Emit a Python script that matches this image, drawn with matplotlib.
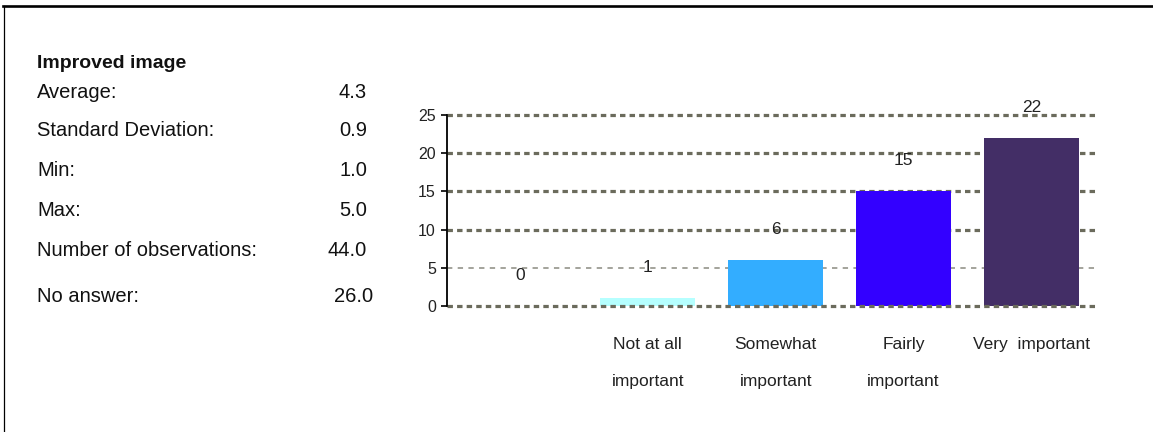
import matplotlib
matplotlib.use("Agg")
import matplotlib.pyplot as plt
from matplotlib.lines import Line2D

plt.rcParams["font.family"] = ["Liberation Sans", "DejaVu Sans"]

# Survey item: importance of an improved image
TITLE = "Improved image"
STAT_NAMES = ["Average:", "Standard Deviation:", "Min:", "Max:",
              "Number of observations:", "No answer:"]
STAT_VALUES = [4.3, 0.9, 1.0, 5.0, 44.0, 26.0]

CATEGORIES = ["", "Not at all\nimportant", "Somewhat\nimportant",
              "Fairly\nimportant", "Very  important"]
COUNTS = [0, 1, 6, 15, 22]
BAR_COLORS = ["#ffffff", "#b5ffff", "#33adff", "#3300ff", "#432e66"]
Y_TICKS = [0, 5, 10, 15, 20, 25]

W, H = 1153, 432
fig = plt.figure(figsize=(W / 100, H / 100), dpi=100)


def fx(px):
    return px / W


def fy(py):
    return 1 - py / H


# outer frame: top and left edges only
fig.add_artist(Line2D([fx(3), 1.0], [fy(6), fy(6)], color="black", lw=1.9,
                      transform=fig.transFigure))
fig.add_artist(Line2D([fx(3.5), fx(3.5)], [0, fy(6)], color="black", lw=0.9,
                      transform=fig.transFigure))

# statistics panel on the left
fig.text(fx(37), fy(63), TITLE, fontsize=14, fontweight="bold",
         va="center", ha="left", color="#111111")
stat_rows = [93, 131, 170, 211, 250, 297]
value_right = [367, 367, 367, 367, 367, 373]
for name, val, ry, vx in zip(STAT_NAMES, STAT_VALUES, stat_rows, value_right):
    fig.text(fx(37), fy(ry), name, fontsize=14.5, va="center", ha="left",
             color="#111111")
    fig.text(fx(vx), fy(ry), f"{val:.1f}", fontsize=14.5, va="center",
             ha="right", color="#111111")

# bar chart on the right
ax = fig.add_axes([fx(447), fy(306), fx(1098) - fx(447), fy(115) - fy(306)])
x = range(len(CATEGORIES))
ax.set_xlim(-0.57, 4.52)
ax.set_ylim(0, 25)

for t in Y_TICKS:
    if t == 5:
        ax.axhline(t, color="#8a8a80", lw=1.1, linestyle=(0, (3.5, 3.5)),
                   zorder=1, clip_on=False)
    else:
        ax.axhline(t, color="#6b6b5c", lw=2.3, linestyle=(0, (1.7, 1.3)),
                   dash_capstyle="butt", zorder=1 if t else 3, clip_on=False)

ax.bar(x, COUNTS, width=0.74, color=BAR_COLORS, zorder=2)

for xi, c in zip(x, COUNTS):
    ax.annotate(str(c), (xi, c), xytext=(0, 22), textcoords="offset points",
                ha="center", va="center", fontsize=12.5, color="#222222",
                zorder=4)

for side in ("top", "right", "bottom"):
    ax.spines[side].set_visible(False)
ax.spines["left"].set_linewidth(1.3)
ax.spines["left"].set_zorder(5)

ax.set_yticks(Y_TICKS)
ax.tick_params(axis="y", direction="out", length=4, width=1.2, pad=4,
               labelsize=11.5, labelcolor="#222222")
ax.set_xticks(list(x))
ax.set_xticklabels(CATEGORIES, fontsize=12.5, color="#222222", linespacing=2.85)
ax.tick_params(axis="x", length=0, pad=22)

fig.savefig("out.png", dpi=100)
